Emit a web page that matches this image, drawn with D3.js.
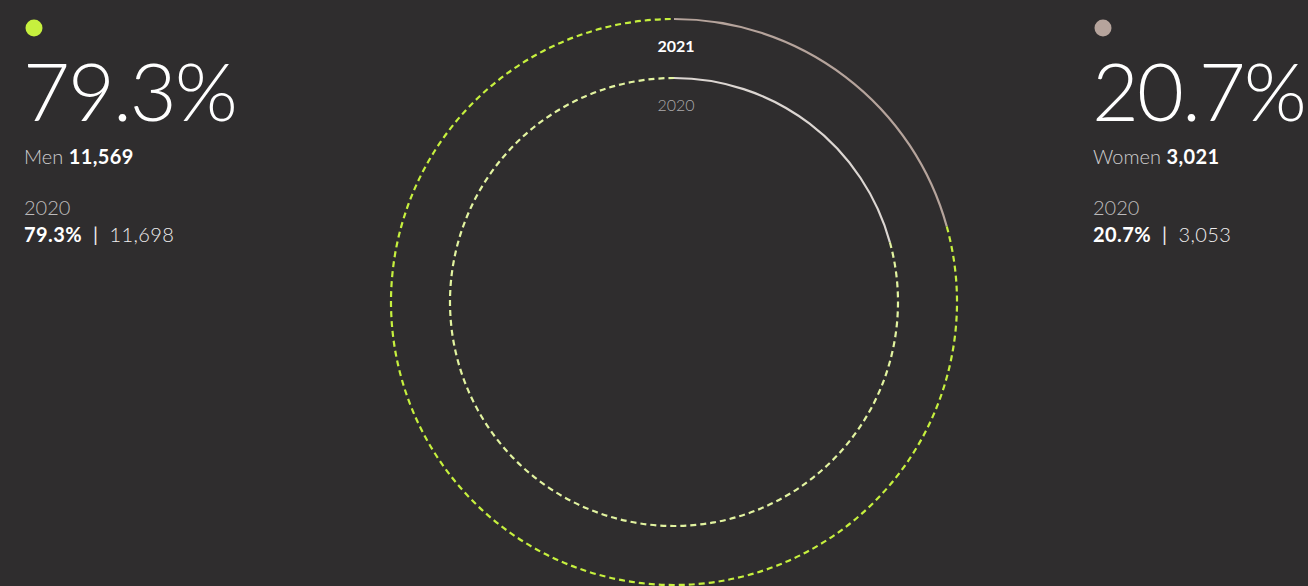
<!DOCTYPE html>
<html>
<head>
<meta charset="utf-8">
<script src="https://cdn.jsdelivr.net/npm/d3@7"></script>
<style>
  html, body { margin: 0; padding: 0; background: #2f2d2e; overflow: hidden; }
  svg { display: block; }
  text { font-family: Lato, "Noto Sans", sans-serif; }
</style>
</head>
<body>
<svg id="chart" width="1308" height="586"></svg>
<script>
// Workforce by gender, two years
const groups = ["Women", "Men"];
const years = ["2021", "2020"];
const counts2021 = [3021, 11569];
const counts2020 = [3053, 11698];
const shares2021 = ["20.7%", "79.3%"];
const shares2020 = ["20.7%", "79.3%"];
const colors = { Women: "#b6a49c", Men: "#c6f03e" };
const innerColors = { Women: "#dcd6d2", Men: "#e2f3a0" };

const W = 1308, H = 586;
const svg = d3.select("#chart");
const fmt = d3.format(",");

const cx = 674, cy = 302;
const rings = [
  { year: years[0], values: counts2021, r: 283, palette: colors },
  { year: years[1], values: counts2020, r: 224, palette: innerColors }
];

const pie = d3.pie().sort(null).value(d => d).startAngle(0).endAngle(2 * Math.PI);
const g = svg.append("g").attr("transform", `translate(${cx},${cy})`);

rings.forEach(ring => {
  const slices = pie(ring.values);
  g.append("g").selectAll("path")
    .data(slices)
    .join("path")
    .attr("d", d => {
      // centre line of the ring as an open arc
      const a = d3.path();
      a.arc(0, 0, ring.r, d.startAngle - Math.PI / 2, d.endAngle - Math.PI / 2);
      return a.toString();
    })
    .attr("fill", "none")
    .attr("stroke", (d, i) => ring.palette[groups[i]])
    .attr("stroke-width", 2.2)
    .attr("stroke-dasharray", (d, i) => groups[i] === "Men" ? "6,4" : null);
});

// year labels inside the rings
g.append("text")
  .attr("x", 2).attr("y", -283 + 33)
  .attr("text-anchor", "middle")
  .attr("fill", "#ffffff").attr("font-weight", 700).attr("font-size", 16)
  .text(years[0]);
g.append("text")
  .attr("x", 2).attr("y", -224 + 33)
  .attr("text-anchor", "middle")
  .attr("fill", "#acaaab").attr("font-weight", 300).attr("font-size", 16)
  .text(years[1]);

// side panels
const panels = [
  { i: 1, x: 24 },
  { i: 0, x: 1093 }
];

panels.forEach(p => {
  const name = groups[p.i];
  const pg = svg.append("g").attr("transform", `translate(${p.x},0)`);
  pg.append("circle").attr("cx", 10).attr("cy", 28).attr("r", 8.5)
    .attr("fill", colors[name]);
  pg.append("text").attr("x", -1).attr("y", 121)
    .attr("fill", "#ffffff").attr("font-weight", 300).attr("font-size", 81)
    .attr("letter-spacing", -2)
    .text(shares2021[p.i]);

  const t1 = pg.append("text").attr("x", 0).attr("y", 164).attr("font-size", 20);
  t1.append("tspan").attr("fill", "#cfcdce").attr("font-weight", 300).text(name + " ");
  t1.append("tspan").attr("fill", "#ffffff").attr("font-weight", 700)
    .attr("letter-spacing", 0.4).text(fmt(counts2021[p.i]));

  pg.append("text").attr("x", 0).attr("y", 215).attr("font-size", 20)
    .attr("fill", "#bdbbbc").attr("font-weight", 300).text(years[1]);

  const t2 = pg.append("text").attr("x", 0).attr("y", 242).attr("font-size", 20)
    .attr("letter-spacing", 0.4);
  t2.append("tspan").attr("fill", "#ffffff").attr("font-weight", 700).text(shares2020[p.i]);
  t2.append("tspan").attr("fill", "#eeeced").attr("font-weight", 400)
    .attr("xml:space", "preserve").style("white-space", "pre").text("  |  ");
  t2.append("tspan").attr("fill", "#eeeced").attr("font-weight", 300).text(fmt(counts2020[p.i]));
});
</script>
</body>
</html>
